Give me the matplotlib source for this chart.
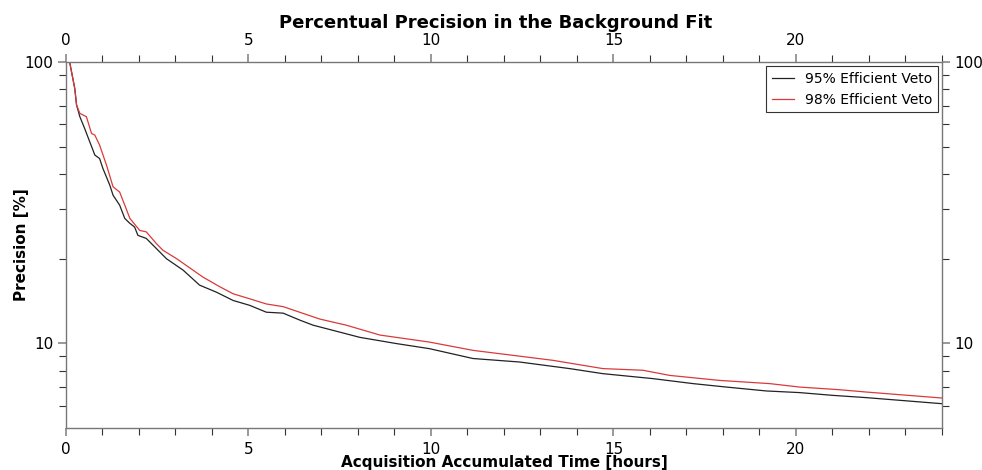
import matplotlib
matplotlib.use("Agg")
import matplotlib.pyplot as plt
from matplotlib.ticker import FixedLocator, NullFormatter, FixedFormatter, MultipleLocator

# values
t_95 = [0.10, 0.24, 0.29, 0.38, 0.51, 0.65, 0.79, 0.92, 1.01, 1.20, 1.29, 1.47, 1.61,
        1.75, 1.88, 1.97, 2.20, 2.48, 2.75, 3.21, 3.66, 4.12, 4.58, 5.03, 5.49, 5.95,
        6.40, 6.77, 8.05, 9.05, 9.96, 11.15, 12.43, 13.80, 14.71, 16.08, 17.18, 18.09,
        19.19, 20.10, 21.01, 21.93, 24.0]
prec_95 = [100, 80.6, 70.3, 63.9, 58.1, 52.1, 46.7, 45.4, 41.9, 36.5, 33.6, 31.0, 27.8,
           26.7, 25.9, 24.2, 23.6, 21.7, 20.0, 18.2, 16.1, 15.2, 14.2, 13.65, 12.9, 12.8,
           12.1, 11.6, 10.5, 9.98, 9.57, 8.83, 8.58, 8.13, 7.80, 7.49, 7.19, 6.99,
           6.77, 6.68, 6.53, 6.41, 6.10]

t_98 = [0.10, 0.24, 0.29, 0.38, 0.56, 0.70, 0.79, 0.92, 1.11, 1.29, 1.47, 1.61, 1.75,
        2.02, 2.20, 2.48, 2.66, 3.03, 3.48, 3.75, 4.21, 4.58, 5.03, 5.49, 5.95, 6.40,
        6.95, 7.68, 8.60, 9.96, 11.15, 12.61, 13.34, 14.71, 15.81, 16.54, 17.91, 19.28,
        20.10, 21.19, 21.93, 24.0]
prec_98 = [100, 80.6, 70.3, 65.7, 63.9, 55.7, 55.0, 50.7, 43.0, 36.0, 34.5, 31.0, 27.8,
           25.2, 24.9, 22.6, 21.4, 20.0, 18.2, 17.2, 15.9, 15.0, 14.4, 13.8, 13.5, 12.9,
           12.2, 11.6, 10.7, 10.1, 9.44, 8.94, 8.70, 8.13, 8.02, 7.69, 7.38, 7.19,
           6.99, 6.84, 6.71, 6.39]

labels = ["95% Efficient Veto", "98% Efficient Veto"]
colors = ["#222222", "#d93a3a"]

fig = plt.figure(figsize=(9.82, 4.70), dpi=100)
ax = fig.add_axes([0.0672, 0.0894, 0.892, 0.7786])

ax.plot(t_95, prec_95, color=colors[0], lw=0.9, label=labels[0])
ax.plot(t_98, prec_98, color=colors[1], lw=0.9, label=labels[1])

ax.set_yscale("log")
ax.set_xlim(0, 24)
ax.set_ylim(5, 100)

ax.yaxis.set_major_locator(FixedLocator([10, 100]))
ax.yaxis.set_major_formatter(FixedFormatter(["10", "100"]))
ax.yaxis.set_minor_locator(FixedLocator([6, 7, 8, 9, 20, 30, 40, 50, 60, 70, 80, 90]))
ax.yaxis.set_minor_formatter(NullFormatter())
ax.xaxis.set_major_locator(MultipleLocator(5))
ax.xaxis.set_minor_locator(MultipleLocator(1))

ax.tick_params(which="both", direction="out", top=True, right=True,
               labeltop=True, labelright=True, labelsize=11)
ax.tick_params(which="major", length=6, width=1.2, color="#888888", pad=3)
ax.tick_params(axis="x", which="major", labeltop=True, pad=4)
ax.tick_params(which="minor", length=5, width=0.8, color="#333333")
for s in ax.spines.values():
    s.set_color("#777777")
    s.set_linewidth(1.0)

ax.set_title("Percentual Precision in the Background Fit", fontsize=13,
             fontweight="bold", pad=4, x=0.49)
ax.set_xlabel("Acquisition Accumulated Time [hours]", fontsize=11,
              fontweight="bold", labelpad=-1)
ax.set_ylabel("Precision [%]", fontsize=11, fontweight="bold", labelpad=-3)

leg = ax.legend(loc="upper right", fontsize=10, fancybox=False, framealpha=1,
                edgecolor="#333333", handlelength=1.6, borderaxespad=0.3)
leg.get_frame().set_linewidth(0.8)

fig.savefig("out.png", dpi=100)
